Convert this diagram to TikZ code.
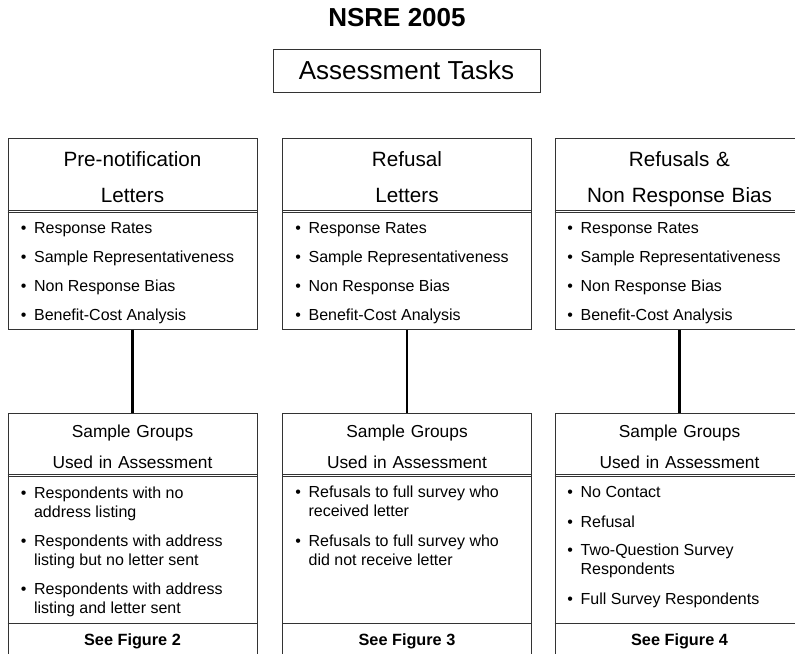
\documentclass[tikz,border=0pt]{standalone}
\usepackage{fontspec}
\setmainfont{Liberation Sans}
\newcommand\bl[1]{\makebox[10pt][l]{\textbullet}\parbox[t]{170pt}{#1}}
\begin{document}
\begin{tikzpicture}[x=0.75pt,y=-0.75pt,
  box/.style={draw=black!80, line width=0.75pt, rectangle, inner sep=0},
  topbox/.style={box, minimum width=186.75pt, minimum height=143.25pt},
  lowbox/.style={box, minimum width=186.75pt, minimum height=189pt},
  conn/.style={line width=1.6pt, black},
  sgl/.style={draw=black!80, line width=0.6pt},
  hd/.style={anchor=base, inner sep=0, text width=180pt, align=center, font=\fontsize{15.5}{27}\selectfont},
  shd/.style={anchor=base, inner sep=0, text width=180pt, align=center, font=\fontsize{13}{23.25}\selectfont},
  itm/.style={anchor=base west, inner sep=0, font=\fontsize{12}{14.5}\selectfont},
  fig/.style={anchor=base, inner sep=0, font=\fontsize{12.2}{14.5}\selectfont\bfseries},
]
\useasboundingbox (0,0) rectangle (795,653);
\clip (0,0) rectangle (795,653);

% title
\node[anchor=base, inner sep=0, font=\fontsize{19.5}{23}\selectfont\bfseries] (title) at (397,26.5) {NSRE 2005};
\node[box, minimum width=200.25pt, minimum height=32.25pt, font=\fontsize{19.5}{23}\selectfont] (tasks) at (406.5,70.5) {Assessment Tasks};

% top boxes
\node[topbox] (t1) at (132.5,233.5) {};
\node[topbox] (t2) at (407,233.5) {};
\node[topbox] (t3) at (679.5,233.5) {};
\foreach \b in {t1,t2,t3}{
  \draw[sgl] ([yshift=-54.4pt]\b.north west) -- ([yshift=-54.4pt]\b.north east);
  \draw[sgl] ([yshift=-56pt]\b.north west) -- ([yshift=-56pt]\b.north east);
}
\node[hd] (t1h) at (132.5,166.5) {Pre-notification\\Letters};
\node[hd] (t2h) at (407,166.5) {Refusal\\Letters};
\node[hd] (t3h) at (679.5,166.5) {Refusals \&\\Non Response Bias};

\foreach \x [count=\k] in {20.5,295,567}{
  \foreach \t [count=\i] in {Response Rates, Sample Representativeness, Non Response Bias, Benefit-Cost Analysis}{
    \node[itm] (tb\k\i) at (\x, 204+29*\i) {\bl{\t}};
  }
}

% lower boxes
\node[lowbox] (l1) at (132.5,539) {};
\node[lowbox] (l2) at (407,539) {};
\node[lowbox] (l3) at (679.5,539) {};
\foreach \b in {l1,l2,l3}{
  \draw[sgl] ([yshift=-46.5pt]\b.north west) -- ([yshift=-46.5pt]\b.north east);
  \draw[sgl] ([yshift=-48.1pt]\b.north west) -- ([yshift=-48.1pt]\b.north east);
  \draw[sgl, line width=0.75pt] ([yshift=-158.25pt]\b.north west) -- ([yshift=-158.25pt]\b.north east);
}
\node[shd] (l1h) at (132.5,437) {Sample Groups\\Used in Assessment};
\node[shd] (l2h) at (407,437) {Sample Groups\\Used in Assessment};
\node[shd] (l3h) at (679.5,437) {Sample Groups\\Used in Assessment};

\node[itm] (lb11) at (20.5,498) {\bl{Respondents with no\\address listing}};
\node[itm] (lb12) at (20.5,546) {\bl{Respondents with address\\listing but no letter sent}};
\node[itm] (lb13) at (20.5,594.5) {\bl{Respondents with address\\listing and letter sent}};

\node[itm] (lb21) at (295,497.5) {\bl{Refusals to full survey who\\received letter}};
\node[itm] (lb22) at (295,546) {\bl{Refusals to full survey who\\did not receive letter}};

\node[itm] (lb31) at (567,497) {\bl{No Contact}};
\node[itm] (lb32) at (567,527) {\bl{Refusal}};
\node[itm] (lb33) at (567,555) {\bl{Two-Question Survey\\Respondents}};
\node[itm] (lb34) at (567,604) {\bl{Full Survey Respondents}};

\node[fig] (f1) at (132.5,645) {See Figure 2};
\node[fig] (f2) at (407,645) {See Figure 3};
\node[fig] (f3) at (679.5,645) {See Figure 4};

% connectors
\draw[conn] (t1) -- (l1);
\draw[conn] (t2) -- (l2);
\draw[conn] (t3) -- (l3);
\end{tikzpicture}
\end{document}
